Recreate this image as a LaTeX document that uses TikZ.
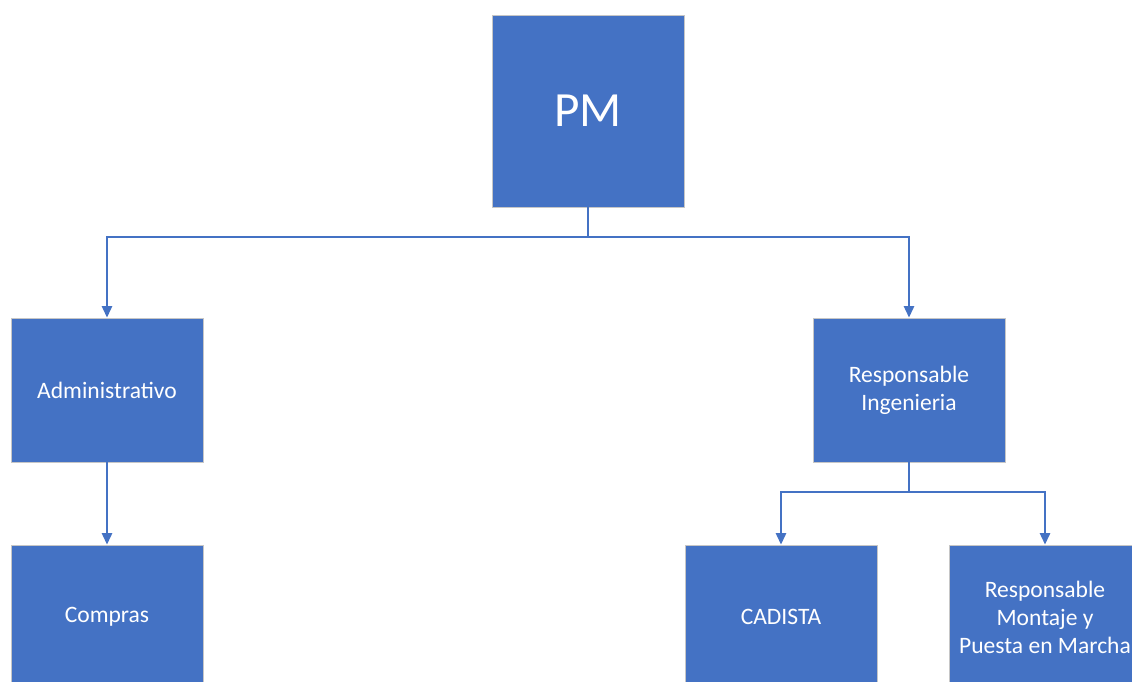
\documentclass[tikz,border=0pt]{standalone}
\usepackage{fontspec}
\setmainfont{Carlito}
\usetikzlibrary{arrows.meta}
\definecolor{azul}{HTML}{4472C4}
\begin{document}
\begin{tikzpicture}[x=0.02cm,y=-0.02cm,
    caja/.style={rectangle,draw=gray!45,line width=0.5pt,fill=azul,text=white,
      minimum width=3.84cm,minimum height=2.88cm,inner sep=0pt,align=center,
      font=\fontsize{13.4}{15.9}\selectfont},
    flecha/.style={draw=azul,line width=1.1pt,-{Triangle[length=6.5pt,width=5.8pt]}}]
        \useasboundingbox (0,0) rectangle (1132,682);
        \clip (0,0) rectangle (1132,682);
        \node at (588,111) [caja, minimum height=3.84cm, font=\fontsize{28}{32}\selectfont] (pm) {PM};
        \node at (107,390) [caja] (adm) {Administrativo};
        \node at (909,390) [caja] (ing) {Responsable\\Ingenieria};
        \node at (107,617) [caja] (com) {Compras};
        \node at (781,617) [caja] (cad) {CADISTA};
        \node at (1045,617) [caja] (mon) {Responsable\\Montaje y\\Puesta en Marcha};
        \draw[flecha] (pm.south) -- ++(0,30) -| (adm.north);
        \draw[flecha] (pm.south) -- ++(0,30) -| (ing.north);
        \draw[flecha] (adm) -- (com);
        \draw[flecha] (ing.south) -- ++(0,30) -| (cad.north);
        \draw[flecha] (ing.south) -- ++(0,30) -| (mon.north);
      \end{tikzpicture}
\end{document}
